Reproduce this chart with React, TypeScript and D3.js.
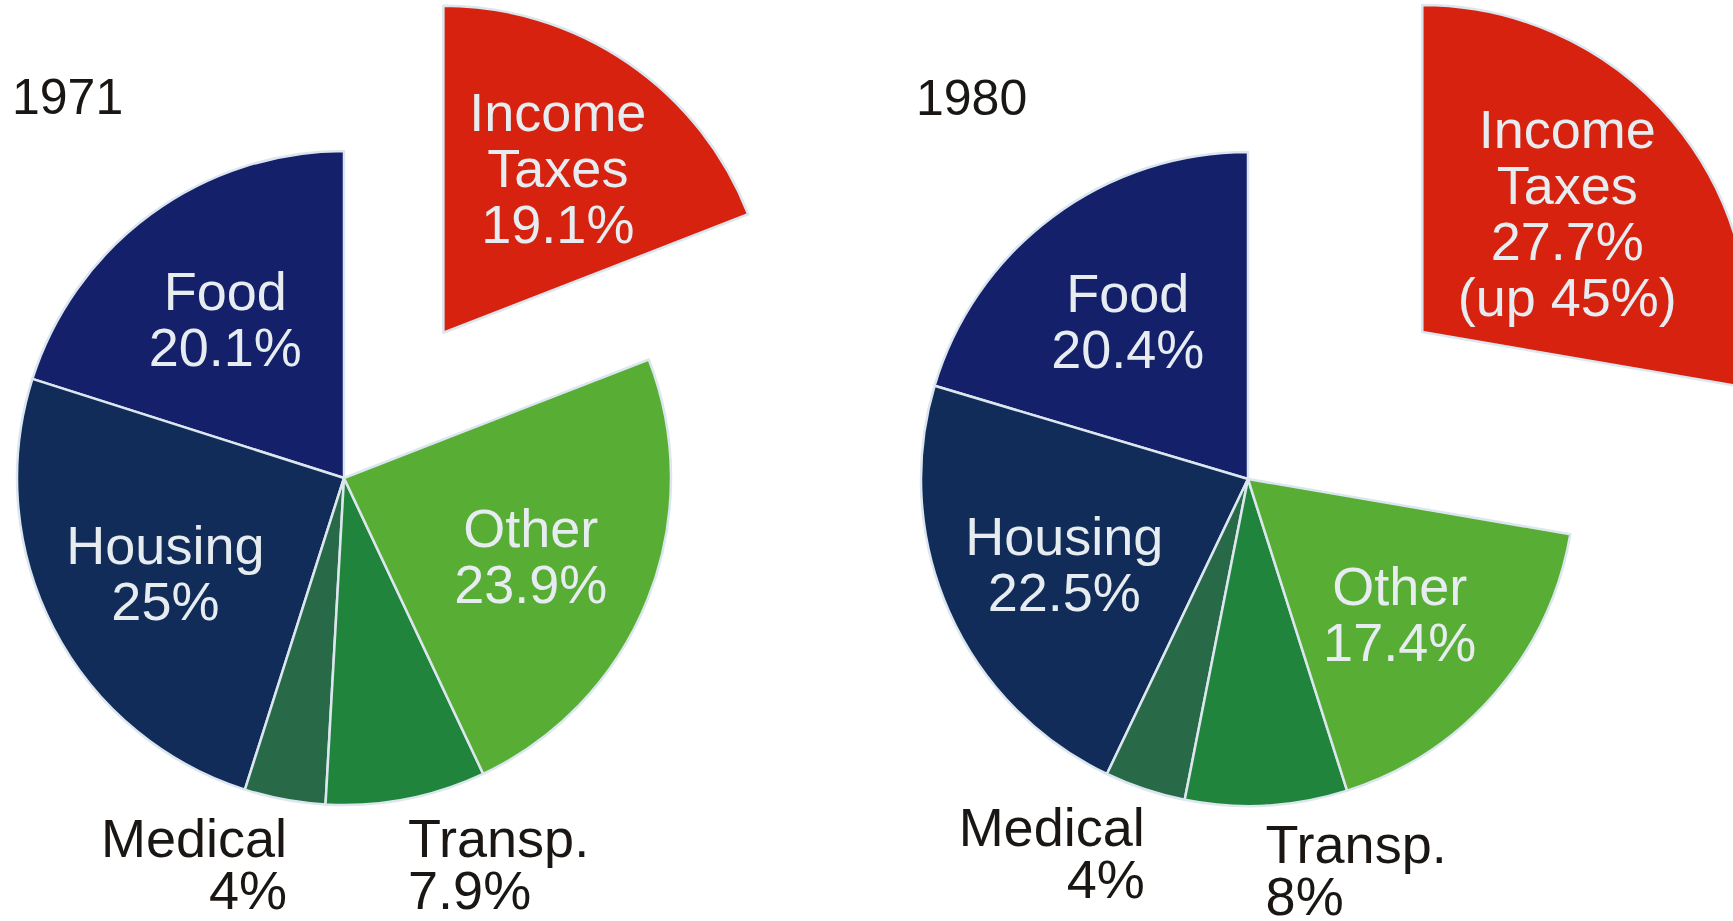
import React from 'react';
import * as d3 from 'd3';

// household budget shares, read counterclockwise from 12 o'clock
const categories = ['Food', 'Housing', 'Medical', 'Transp.', 'Other', 'Income Taxes'];
const categoryLines = [['Food'], ['Housing'], ['Medical'], ['Transp.'], ['Other'], ['Income', 'Taxes']];
const values1971 = [20.1, 25, 4, 7.9, 23.9, 19.1];
const values1980 = [20.4, 22.5, 4, 8, 17.4, 27.7];
const valueLabels1971 = ['20.1%', '25%', '4%', '7.9%', '23.9%', '19.1%'];
const valueLabels1980 = ['20.4%', '22.5%', '4%', '8%', '17.4%', '27.7%'];
const notes1980 = ['', '', '', '', '', '(up 45%)'];
const notes1971 = ['', '', '', '', '', ''];

const colors = {
  Food: '#14206a',
  Housing: '#112c58',
  Medical: '#286a48',
  'Transp.': '#21843d',
  Other: '#58ad34',
  'Income Taxes': '#d6220f',
};

const outside = { Medical: 'end', 'Transp.': 'start' };
const exploded = 'Income Taxes';

const W = 1733;
const H = 921;
const R = 327;
const FONT = '"Liberation Sans", Arial, Helvetica, sans-serif';

const charts = [
  { year: '1971', values: values1971, labels: valueLabels1971, notes: notes1971, cx: 344, cy: 478, explode: 176 },
  { year: '1980', values: values1980, labels: valueLabels1980, notes: notes1980, cx: 1248, cy: 479, explode: 228 },
];

const polar = (r: number, a: number): [number, number] => [r * Math.sin(a), -r * Math.cos(a)];

function Pie({ chart }: { chart: any }) {
  const pie = d3.pie<number>().sort(null).startAngle(0).endAngle(-2 * Math.PI);
  const arcs = pie(chart.values);
  const arc = d3.arc<any>().innerRadius(0).outerRadius(R);

  return (
    <g transform={`translate(${chart.cx},${chart.cy})`}>
      <text x={-332} y={-364} fontSize={50} fill="#1a1614" fontFamily={FONT}>
        {chart.year}
      </text>
      {arcs.map((d, i) => {
        const name = categories[i];
        const mid = (d.startAngle + d.endAngle) / 2;
        const [ox, oy] = name === exploded ? polar(chart.explode, mid) : [0, 0];
        return (
          <path
            key={name}
            d={arc(d) as string}
            transform={`translate(${ox},${oy})`}
            fill={colors[name]}
            stroke="#dbe6ee"
            strokeWidth={2.5}
            strokeLinejoin="round"
          />
        );
      })}
      {arcs.map((d, i) => {
        const name = categories[i];
        const mid = (d.startAngle + d.endAngle) / 2;
        const lines = [...categoryLines[i], chart.labels[i]];
        if (chart.notes[i]) lines.push(chart.notes[i]);
        if (outside[name]) {
          const [x, y] = polar(R + 20, mid);
          return (
            <text key={name} fontSize={54} fill="#1a1614" fontFamily={FONT} textAnchor={outside[name]}>
              {lines.map((t, j) => (
                <tspan key={j} x={x + (outside[name] === 'end' ? 6 : -2)} y={y + 38 + j * 52}>{t}</tspan>
              ))}
            </text>
          );
        }
        const [ox, oy] = name === exploded ? polar(chart.explode, mid) : [0, 0];
        const k = name === exploded ? (lines.length > 3 ? 0.58 : 0.62) : 0.615;
        const [lx, ly] = polar(R * k, mid);
        const lh = 56;
        const cap = 38;
        const top = ly - ((lines.length - 1) * lh + cap) / 2 + cap;
        return (
          <text key={name} fontSize={54} fill="#e6ecef" fontFamily={FONT} textAnchor="middle">
            {lines.map((t, j) => (
              <tspan key={j} x={ox + lx} y={oy + top + 3 + j * lh}>{t}</tspan>
            ))}
          </text>
        );
      })}
    </g>
  );
}

export default function App() {
  return (
    <svg
      width={W}
      height={H}
      style={{ position: 'absolute', left: 0, top: 0, background: '#ffffff' }}
    >
      <rect width={W} height={H} fill="#ffffff" />
      {charts.map((c) => (
        <Pie key={c.year} chart={c} />
      ))}
    </svg>
  );
}
